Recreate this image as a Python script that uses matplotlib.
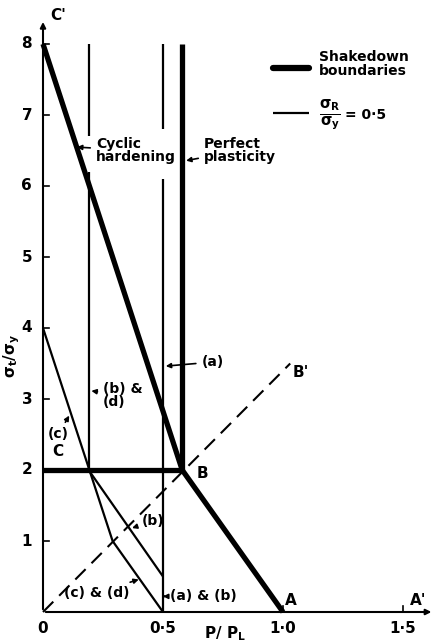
import numpy as np
import matplotlib
matplotlib.use("Agg")
from matplotlib import pyplot as plt

# shakedown boundaries (thick)
cprime_x = [0.0, 0.58]
cprime_y = [8.0, 2.0]
cb_x = [0.0, 0.58]
cb_y = [2.0, 2.0]
ba_x = [0.58, 1.0]
ba_y = [2.0, 0.0]
pp_x = [0.58, 0.58]
pp_y = [2.0, 8.0]

# sigma_R / sigma_y = 0.5 (thin)
hard_x = [0.19, 0.19]
hard_segs = [(8.0, 6.7), (6.2, 2.0)]
half_x = [0.5, 0.5]
half_segs = [(8.0, 6.8), (6.1, 0.0)]
cd_x = [0.0, 0.29, 0.5]
cd_y = [4.0, 1.0, 0.0]
b_x = [0.19, 0.5]
b_y = [2.0, 0.5]

# dashed O-B'
dash_x = [0.0, 1.03]
dash_y = [0.0, 3.5]

yticks = [1, 2, 3, 4, 5, 6, 7, 8]
xticks = [0.5, 1.0, 1.5]
xtick_labels = ["0·5", "1·0", "1·5"]

fig = plt.figure(figsize=(4.35, 6.43), dpi=100)
ax = fig.add_axes([0, 0, 1, 1])
ax.set_xlim(-43 / 240, (435 - 43) / 240)
ax.set_ylim(-(643 - 612) / 71, 612 / 71)
ax.axis("off")

thick = dict(color="black", lw=3.8, solid_capstyle="butt")
thin = dict(color="black", lw=1.6, solid_capstyle="butt")
fnt = dict(fontweight="bold", fontsize=10)

# axes with arrows
ax.annotate("", xy=(1.63, 0), xytext=(0, 0),
            arrowprops=dict(arrowstyle="-|>", color="black", lw=1.5, mutation_scale=8))
ax.annotate("", xy=(0, 8.35), xytext=(0, 0),
            arrowprops=dict(arrowstyle="-|>", color="black", lw=1.5, mutation_scale=8))
for t in yticks:
    ax.plot([0, 0.025], [t, t], color="black", lw=1.2)
    ax.text(-0.045, t, str(t), ha="right", va="center", fontsize=11, fontweight="bold")
for t, lab in zip(xticks, xtick_labels):
    ax.plot([t, t], [0, 0.08], color="black", lw=1.2)
    ax.text(t, -0.12, lab, ha="center", va="top", fontsize=11, fontweight="bold")
ax.text(0.0, -0.12, "0", ha="center", va="top", fontsize=11, fontweight="bold")
ax.text(0.76, -0.17, r"P/ P$_\mathbf{L}$", ha="center", va="top", fontsize=11, fontweight="bold")
ax.text(-0.13, 3.6, r"$\mathbf{\sigma_t/\sigma_y}$", rotation=90, ha="center", va="center", fontsize=11)

# thick boundaries
ax.plot(cprime_x, cprime_y, **thick)
ax.plot(cb_x, cb_y, **thick)
ax.plot(ba_x, ba_y, **thick)
ax.plot(pp_x, pp_y, **thick)

# thin lines
for y0, y1 in hard_segs:
    ax.plot(hard_x, [y0, y1], **thin)
for y0, y1 in half_segs:
    ax.plot(half_x, [y0, y1], **thin)
ax.plot(cd_x, cd_y, **thin)
ax.plot(b_x, b_y, **thin)

ax.plot(dash_x, dash_y, color="black", lw=1.5, dashes=(7, 4))

# point labels
ax.text(0.03, 8.4, "C'", fontsize=11, fontweight="bold", va="center")
ax.text(0.04, 2.15, "C", fontsize=11, fontweight="bold", va="bottom")
ax.text(0.64, 1.95, "B", fontsize=11, fontweight="bold", va="center")
ax.text(1.04, 3.38, "B'", fontsize=11, fontweight="bold", va="center")
ax.text(1.01, 0.05, "A", fontsize=11, fontweight="bold", va="bottom")
ax.text(1.53, 0.05, "A'", fontsize=11, fontweight="bold", va="bottom")

arr = dict(arrowstyle="-|>", color="black", lw=1.2, mutation_scale=7)
ax.annotate("Cyclic\nhardening", xy=(0.13, 6.55), xytext=(0.22, 6.5),
            va="center", ha="left", linespacing=0.95, arrowprops=arr, **fnt)
ax.annotate("Perfect\nplasticity", xy=(0.585, 6.35), xytext=(0.67, 6.5),
            va="center", ha="left", linespacing=0.95, arrowprops=arr, **fnt)
ax.annotate("(a)", xy=(0.5, 3.46), xytext=(0.66, 3.52),
            va="center", ha="left", arrowprops=arr, **fnt)
ax.annotate("(b) &\n(d)", xy=(0.19, 3.12), xytext=(0.25, 3.05),
            va="center", ha="left", linespacing=0.95, arrowprops=arr, **fnt)
ax.annotate("(c)", xy=(0.115, 2.8), xytext=(0.02, 2.5),
            va="center", ha="left", arrowprops=arr, **fnt)
ax.annotate("(b)", xy=(0.36, 1.17), xytext=(0.41, 1.28),
            va="center", ha="left", arrowprops=arr, **fnt)
ax.annotate("(c) & (d)", xy=(0.41, 0.47), xytext=(0.36, 0.27),
            va="center", ha="right", arrowprops=arr, **fnt)
ax.annotate("(a) & (b)", xy=(0.5, 0.22), xytext=(0.53, 0.22),
            va="center", ha="left", arrowprops=arr, **fnt)

# legend
ax.plot([0.96, 1.11], [7.66, 7.66], color="black", lw=4.5, solid_capstyle="round")
ax.text(1.15, 7.72, "Shakedown\nboundaries", va="center", ha="left", linespacing=0.95, **fnt)
ax.plot([0.96, 1.11], [7.03, 7.03], **thin)
ax.text(1.15, 7.0, r"$\mathbf{\frac{\sigma_R}{\sigma_y}}$", va="center", ha="left", fontsize=15)
ax.text(1.26, 7.0, "= 0·5", va="center", ha="left", **fnt)

fig.savefig("out.png", dpi=100)
